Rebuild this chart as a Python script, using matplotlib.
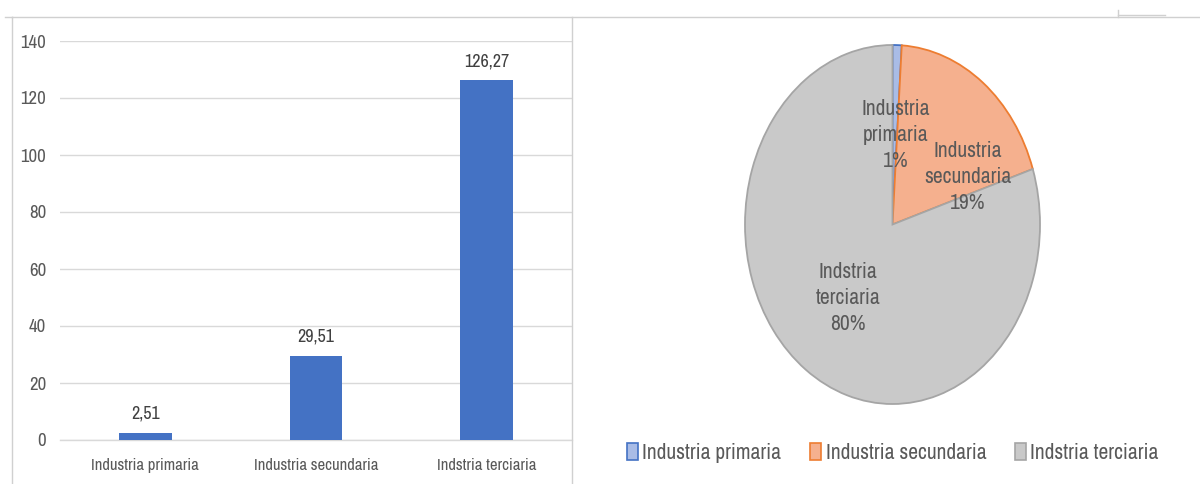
import matplotlib
matplotlib.use("Agg")
import matplotlib.pyplot as plt
from matplotlib.patches import Patch
from matplotlib.lines import Line2D

plt.rcParams['font.family'] = ['Archivo Narrow', 'DejaVu Sans']

# Bar chart data
categories = ["Industria primaria", "Industria secundaria", "Indstria terciaria"]
values = [2.51, 29.51, 126.27]
value_labels = ["2,51", "29,51", "126,27"]
yticks = [0, 20, 40, 60, 80, 100, 120, 140]

# Pie chart data (percent shares)
pie_names = ["Industria\nprimaria", "Industria\nsecundaria", "Indstria\nterciaria"]
pie_shares = [1, 19, 80]

BAR_BLUE = "#4472C4"
TEXT_GRAY = "#595959"
GRID = "#D9D9D9"
FRAME = "#D0D0D0"

W, H = 1200, 484
fig = plt.figure(figsize=(W / 100, H / 100), dpi=100)

def fx(px):
    return px / W

def fy(py):
    return 1 - py / H

# ---- Bar chart ----
ax = fig.add_axes([fx(60), fy(440), fx(572) - fx(60), fy(41) - fy(440)])
x = range(len(categories))
bars = ax.bar(x, values, width=0.31, color=BAR_BLUE, zorder=3)
ax.set_xlim(-0.5, len(categories) - 0.5)
ax.set_ylim(0, 140)
ax.set_yticks(yticks)
ax.set_yticklabels([str(t) for t in yticks])
ax.set_xticks(list(x))
ax.set_xticklabels(categories)
ax.tick_params(axis='both', length=0, labelcolor=TEXT_GRAY)
ax.tick_params(axis='y', pad=10, labelsize=13.5)
ax.tick_params(axis='x', pad=13, labelsize=12)
ax.grid(axis='y', color=GRID, linewidth=1.0, zorder=0)
for s in ['top', 'right', 'left']:
    ax.spines[s].set_visible(False)
ax.spines['bottom'].set_color(GRID)
ax.spines['bottom'].set_linewidth(1.0)
for rect, lab in zip(bars, value_labels):
    ax.annotate(lab, (rect.get_x() + rect.get_width() / 2, rect.get_height()),
                xytext=(0, 8), textcoords='offset points', ha='center', va='bottom',
                fontsize=13, color="#404040")

# ---- Pie chart ----
pax = fig.add_axes([fx(745), fy(404), fx(1040) - fx(745), fy(45) - fy(404)])
pie_faces = ["#A9BCE6", "#F5B08E", "#C9C9C9"]
pie_edges = ["#4472C4", "#ED7D31", "#A5A5A5"]
wedges, _ = pax.pie(pie_shares, startangle=90, counterclock=False,
                    colors=pie_faces, radius=1.0)
for w, ec in zip(wedges, pie_edges):
    w.set_edgecolor(ec)
    w.set_linewidth(1.3)
pax.set_aspect('auto')
pax.set_xlim(-1.0, 1.0)
pax.set_ylim(-1.0, 1.0)
pax.axis('off')

label_pos = [(0.02, 0.50), (0.51, 0.265), (-0.30, -0.41)]
for name, share, (lx, ly) in zip(pie_names, pie_shares, label_pos):
    pax.text(lx, ly, f"{name}\n{share}%", ha='center', va='center',
             fontsize=15.5, color=TEXT_GRAY, linespacing=1.38)

# Legend below the pie
handles = [Patch(facecolor=f, edgecolor=e, linewidth=1.2) for f, e in zip(pie_faces, pie_edges)]
fig.legend(handles, categories, loc='center', bbox_to_anchor=(fx(893), fy(453)),
           ncol=3, frameon=False, fontsize=15.5, labelcolor=TEXT_GRAY,
           handlelength=0.5, handleheight=0.8, handletextpad=0.2, columnspacing=1.35)

# Surrounding frame lines
frame_lines = [
    ([12, 1200], [17, 17]),
    ([12, 12], [17, 484]),
    ([572, 572], [17, 484]),
    ([5, 12], [17, 17]),
    ([1118, 1165], [15, 15]),
    ([1118, 1118], [10, 17]),
]
for xs, ys in frame_lines:
    fig.add_artist(Line2D([fx(v) for v in xs], [fy(v) for v in ys],
                          color=FRAME, linewidth=1.0))

fig.savefig("out.png", dpi=100)
